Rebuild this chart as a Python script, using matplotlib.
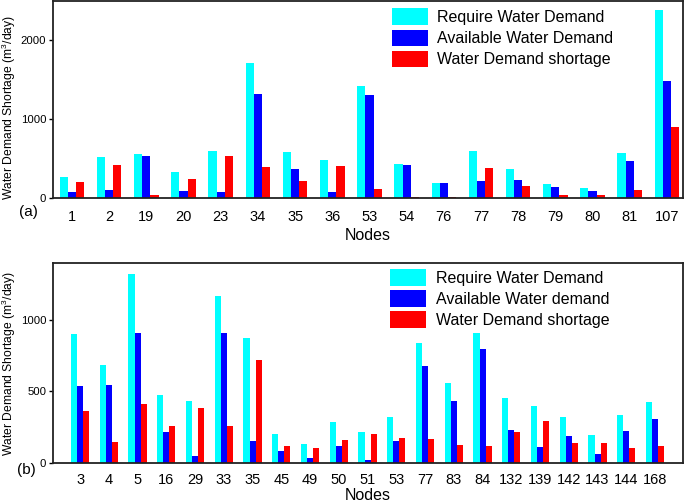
import numpy as np
import matplotlib
matplotlib.use("Agg")
import matplotlib.pyplot as plt

plt.rcParams['font.family'] = ['Liberation Sans', 'DejaVu Sans']
plt.rcParams['mathtext.fontset'] = 'custom'
plt.rcParams['mathtext.rm'] = 'Liberation Sans'
plt.rcParams['mathtext.it'] = 'Liberation Sans'

# panel (a)
nodes_a = ["1", "2", "19", "20", "23", "34", "35", "36", "53", "54", "76", "77", "78", "79", "80", "81", "107"]
require_a = [266, 524, 562, 326, 600, 1717, 588, 478, 1425, 431, 195, 600, 372, 182, 131, 575, 2389]
available_a = [72, 101, 533, 89, 80, 1319, 372, 80, 1307, 414, 186, 220, 224, 144, 93, 474, 1484]
shortage_a = [199, 419, 34, 237, 529, 393, 216, 402, 118, 17, 8, 381, 152, 42, 42, 101, 905]

# panel (b)
nodes_b = ["3", "4", "5", "16", "29", "33", "35", "45", "49", "50", "51", "53", "77", "83", "84",
           "132", "139", "142", "143", "144", "168"]
require_b = [901, 688, 1322, 474, 432, 1169, 876, 204, 131, 284, 216, 322, 843, 559, 913,
             453, 399, 324, 195, 333, 427]
available_b = [540, 547, 908, 216, 45, 908, 153, 82, 31, 117, 16, 150, 678, 432, 798,
               232, 108, 185, 61, 225, 310]
shortage_b = [361, 143, 411, 258, 385, 258, 723, 120, 101, 162, 200, 171, 164, 127, 117,
              218, 291, 141, 136, 106, 117]

fig = plt.figure(figsize=(6.85, 5.03), dpi=100)
ax1 = fig.add_axes([0.0774, 0.6064, 0.9196, 0.3916])
ax2 = fig.add_axes([0.0774, 0.0801, 0.9196, 0.3964])


def draw(ax, nodes, req, avail, short, w, labels, ymax, yticks, xlim, xpad):
    x = np.arange(len(nodes))
    ax.bar(x - w, req, w, color='#00FFFF', label=labels[0])
    ax.bar(x, avail, w, color='#0000FF', label=labels[1])
    ax.bar(x + w, short, w, color='#FF0000', label=labels[2])
    ax.set_xticks(x)
    ax.set_xticklabels(nodes, fontsize=10.5)
    ax.set_xlim(*xlim)
    ax.set_ylim(0, ymax)
    ax.set_yticks(yticks)
    ax.tick_params(axis='y', labelsize=8.2, direction='out', length=3, width=1, pad=1.8)
    ax.tick_params(axis='x', length=0, pad=xpad)
    for s in ax.spines.values():
        s.set_linewidth(1.3)
        s.set_color('#222222')
    ax.set_ylabel("Water Demand Shortage (m$^3$/day)", fontsize=8.7)
    ax.set_xlabel("Nodes", fontsize=11.5)


draw(ax1, nodes_a, require_a, available_a, shortage_a, 0.22,
     ["Require Water Demand", "Available Water Demand", "Water Demand shortage"],
     2500, [0, 1000, 2000], (-0.51, 16.43), 9)
draw(ax2, nodes_b, require_b, available_b, shortage_b, 0.21,
     ["Require Water Demand", "Available Water demand", "Water Demand shortage"],
     1400, [0, 500, 1000], (-0.94, 20.97), 7.5)

ax1.yaxis.set_label_coords(-0.055, 0.46)
ax2.yaxis.set_label_coords(-0.055, 0.5)
ax1.xaxis.set_label_coords(0.5, -0.15)
ax2.xaxis.set_label_coords(0.5, -0.125)

for ax, anchor in [(ax1, (0.538, 0.962)), (ax2, (0.535, 0.97))]:
    ax.legend(loc='upper left', bbox_to_anchor=anchor, frameon=False, fontsize=11.5,
              handlelength=2.25, handleheight=1.2, handletextpad=0.6,
              labelspacing=0.28, borderpad=0, borderaxespad=0)

fig.text(0.042, 1 - 212 / 503, "(a)", fontsize=11, ha='center', va='center')
fig.text(0.039, 1 - 470 / 503, "(b)", fontsize=11, ha='center', va='center')

plt.savefig("out.png", dpi=100)
plt.close()
